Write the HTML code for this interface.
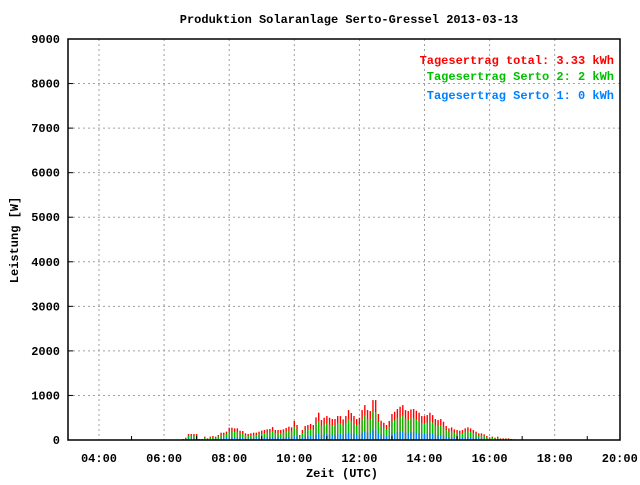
<!DOCTYPE html>
<html><head><meta charset="utf-8"><style>
body{margin:0;background:#fff;}
svg text{font-family:"Liberation Mono",monospace;font-weight:bold;font-size:12px;}
</style></head><body>
<svg id="chart" width="640" height="480" xmlns="http://www.w3.org/2000/svg">
<rect x="0" y="0" width="640" height="480" fill="#fff"/>
<text x="349" y="23" text-anchor="middle" font-size="12">Produktion Solaranlage Serto-Gressel 2013-03-13</text>
<g id="grid"></g>
<g id="bars"></g>
<rect x="68" y="39" width="552" height="401" fill="none" stroke="#000" stroke-width="1.5"/>
<g id="axes"></g>
<text transform="translate(18,240) rotate(-90)" text-anchor="middle">Leistung [W]</text>
<text x="342" y="477" text-anchor="middle">Zeit (UTC)</text>
<text x="614" y="64" text-anchor="end" fill="#ff0000">Tagesertrag total: 3.33 kWh</text>
<text x="614" y="80" text-anchor="end" fill="#00c000">Tagesertrag Serto 2: 2 kWh</text>
<text x="614" y="99" text-anchor="end" fill="#0080ff">Tagesertrag Serto 1: 0 kWh</text>
</svg>
<script>
const startHour = 6 + 35/60;
const stepHours = 5/60;
const totalW = [22,52,134,134,134,134,22,22,75,37,75,90,75,112,164,164,187,276,276,261,261,209,202,149,134,149,164,164,187,209,224,239,246,291,224,224,224,239,269,299,284,426,336,112,224,314,336,359,336,508,613,448,500,538,500,471,471,538,538,463,538,672,
605,538,470,500,672,784,672,650,896,896,583,433,388,336,426,583,635,695,747,784,672,650,687,695,657,612,538,538,560,612,560,470,448,470,410,314,261,284,239,224,209,224,261,284,261,224,187,149,149,127,90,60,75,52,75,37,37,37,37,22,15];
const serto2W = [15,36,94,94,94,94,15,15,52,26,52,63,52,78,115,115,131,193,193,183,183,146,141,104,94,104,115,115,131,146,157,167,172,204,157,157,157,167,188,209,199,298,235,78,157,220,235,251,235,356,429,314,350,377,350,330,330,377,377,324,377,470,
424,377,329,350,470,549,470,455,627,627,408,303,272,235,298,408,444,486,523,549,470,455,481,486,460,428,377,377,392,428,392,329,314,329,287,220,183,199,167,157,146,157,183,199,183,157,131,104,104,89,63,42,52,36,52,26,26,26,26,15,10];
const serto1W = [5,13,33,33,33,33,5,5,19,9,19,22,19,28,41,41,47,69,69,65,65,52,50,37,33,37,41,41,47,52,56,60,61,73,56,56,56,60,67,75,71,106,84,28,56,78,84,90,84,127,153,112,125,134,125,118,118,134,134,116,134,168,
151,134,117,125,168,196,168,162,224,224,146,108,97,84,106,146,159,174,187,196,168,162,172,174,164,153,134,134,140,153,140,117,112,117,102,78,65,71,60,56,52,56,65,71,65,56,47,37,37,32,22,15,19,13,19,9,9,9,9,5,4];
const yTicks = [0,1000,2000,3000,4000,5000,6000,7000,8000,9000];
const xTickHours = [4,6,8,10,12,14,16,18,20];
const xTickLabels = ["04:00","06:00","08:00","10:00","12:00","14:00","16:00","18:00","20:00"];
const minorHours = [5,7,9,11,13,15,17,19];

const NS="http://www.w3.org/2000/svg";
const X0=68,X1=620,Y0=440,Y1=39;
function xPos(h){return 99+(h-4)*32.55;}
function yPos(v){return Y0-(v/9000)*(Y0-Y1);}
function mk(tag,attrs,parent){const e=document.createElementNS(NS,tag);for(const k in attrs)e.setAttribute(k,attrs[k]);parent.appendChild(e);return e;}
const grid=document.getElementById('grid'),bars=document.getElementById('bars'),axes=document.getElementById('axes');
yTicks.forEach(v=>{
  const y=yPos(v);
  if(v>0&&v<9000){const l=mk('line',{x1:X0,x2:X1,y1:y,y2:y,stroke:'#a0a0a0','stroke-dasharray':'2,3'},grid);
  
  }
  const t=mk('text',{x:60,y:y+4,'text-anchor':'end'},axes);t.textContent=v;
  
  
  const tk=mk('line',{x1:X0,x2:X0+5,y1:y,y2:y,stroke:'#000'},axes);
  
  
});
xTickHours.forEach((h,i)=>{
  const x=xPos(h);
  if(x<X1-1){const l=mk('line',{x1:x,x2:x,y1:Y1,y2:Y0,stroke:'#a0a0a0','stroke-dasharray':'2,3'},grid);
  
  }
  const t=mk('text',{x:x,y:462,'text-anchor':'middle'},axes);t.textContent=xTickLabels[i];
  
  
});
minorHours.forEach(h=>{const x=xPos(h);const tk=mk('line',{x1:x,x2:x,y1:Y0,y2:Y0-4,stroke:'#000'},axes);
  
  });
function drawSeries(arr,color,name){
  arr.forEach((v,i)=>{
    const x=xPos(startHour+i*stepHours);
    const r=mk('rect',{x:x-0.7,y:yPos(v),width:1.4,height:Y0-yPos(v),fill:color},bars);
    
    
  });
}
drawSeries(totalW,'#ff0000','bar-total');
drawSeries(serto2W,'#00c000','bar-serto-2');
drawSeries(serto1W,'#0080ff','bar-serto-1');
</script>
</body></html>
